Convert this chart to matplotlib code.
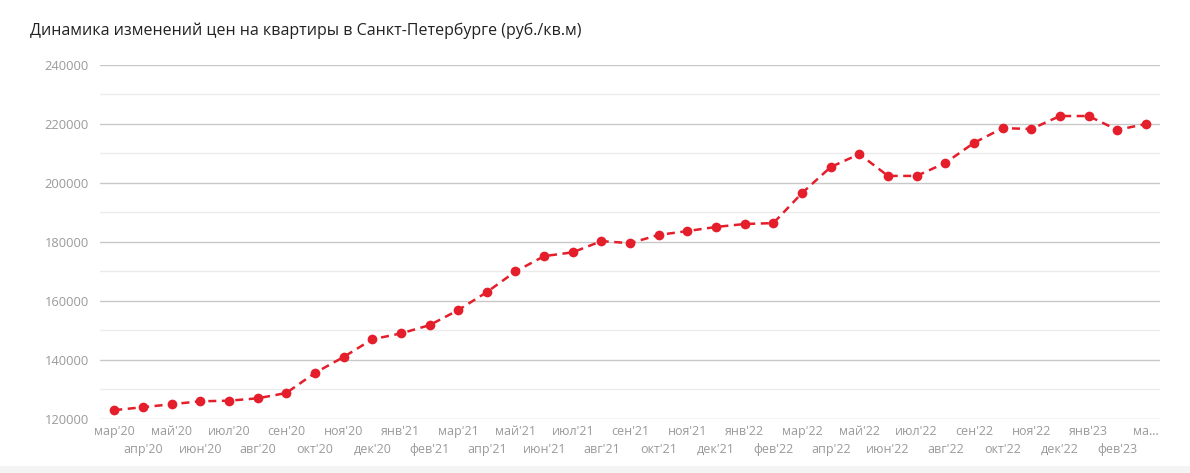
"""Динамика цен на квартиры в Санкт-Петербурге, март 2020 - март 2023."""

import matplotlib
matplotlib.use("Agg")
import matplotlib.pyplot as plt
from matplotlib.patches import Rectangle

# Подписи месяцев (последняя обрезана, как в оригинале)
months = [
    "мар'20", "апр'20", "май'20", "июн'20", "июл'20", "авг'20", "сен'20",
    "окт'20", "ноя'20", "дек'20", "янв'21", "фев'21", "мар'21", "апр'21",
    "май'21", "июн'21", "июл'21", "авг'21", "сен'21", "окт'21", "ноя'21",
    "дек'21", "янв'22", "фев'22", "мар'22", "апр'22", "май'22", "июн'22",
    "июл'22", "авг'22", "сен'22", "окт'22", "ноя'22", "дек'22", "янв'23",
    "фев'23", "ма...",
]

# Цена, руб./кв.м
prices = [
    123000, 124000, 125000, 126000, 126200, 127000, 128800,
    135600, 141000, 147000, 149000, 151800, 156900, 163000,
    170000, 175200, 176500, 180300, 179600, 182400, 183700,
    185100, 186100, 186400, 196600, 205400, 209800, 202400,
    202400, 206800, 213600, 218600, 218300, 222700, 222700,
    218000, 220000,
]

y_ticks = [120000, 140000, 160000, 180000, 200000, 220000, 240000]
y_minor = [130000, 150000, 170000, 190000, 210000, 230000]

plt.rcParams["font.family"] = ["Open Sans", "DejaVu Sans"]

fig = plt.figure(figsize=(11.9, 4.73), dpi=100)
ax = fig.add_axes([0.084, 0.1142, 0.891, 0.7484])

x = list(range(len(prices)))
ax.plot(x, prices, color="#e41e2b", linestyle=(0, (3.2, 2.2)), linewidth=1.8,
        marker="o", markersize=7, markeredgewidth=0, zorder=3)

ax.set_xlim(-0.5, len(prices) - 0.5)
ax.set_ylim(120000, 240000)

# сетка: основные линии темнее, промежуточные светлее
ax.set_yticks(y_ticks)
ax.set_yticklabels([str(v) for v in y_ticks])
ax.set_yticks(y_minor, minor=True)
ax.grid(axis="y", which="major", color="#c8c8c8", linewidth=1)
ax.grid(axis="y", which="minor", color="#ebebeb", linewidth=1)
ax.tick_params(axis="y", which="both", length=0, pad=8,
               labelsize=9.3, labelcolor="#9a9a9a")

# подписи месяцев в два ряда
ax.set_xticks(x[0::2])
ax.set_xticklabels(months[0::2])
ax.set_xticks(x[1::2], minor=True)
ax.set_xticklabels(months[1::2], minor=True)
ax.tick_params(axis="x", which="major", length=0, pad=4,
               labelsize=9, labelcolor="#9a9a9a")
ax.tick_params(axis="x", which="minor", length=0, pad=17,
               labelsize=9, labelcolor="#9a9a9a")

for s in ax.spines.values():
    s.set_visible(False)

fig.text(0.025, 0.935, "Динамика изменений цен на квартиры в Санкт-Петербурге (руб./кв.м)",
         fontsize=11.5, color="#222222", ha="left", va="center")

# светлая полоса внизу
fig.patches.append(Rectangle((0, 0), 1, 0.015, transform=fig.transFigure,
                             facecolor="#f4f4f4", edgecolor="none", zorder=0))

fig.savefig("out.png", dpi=100)
